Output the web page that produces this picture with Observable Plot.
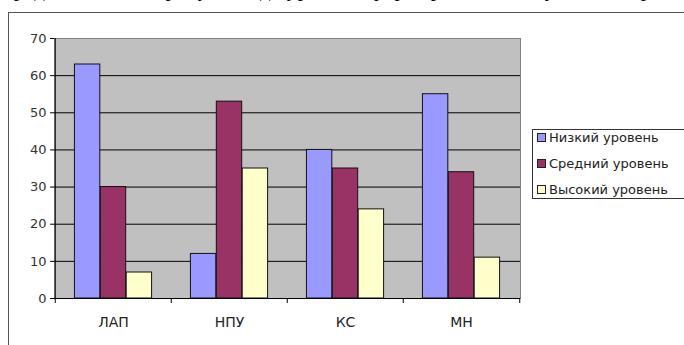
<!DOCTYPE html>
<html>
<head>
<meta charset="utf-8">
<script src="https://cdn.jsdelivr.net/npm/d3@7"></script>
<script src="https://cdn.jsdelivr.net/npm/@observablehq/plot@0.6"></script>
<style>
  html, body { margin: 0; padding: 0; background: #fff; }
  #wrap { position: relative; width: 684px; height: 345px; overflow: hidden; }
  #toptext { position: absolute; left: 2px; top: -23px; font-family: "Liberation Serif", serif; font-size: 21px; color: #000; white-space: nowrap; letter-spacing: 0.5px; }
  #border { position: absolute; left: 8px; top: 12px; width: 700px; height: 400px; border: 1px solid #555; box-sizing: border-box; }
  #chart { position: absolute; left: 0; top: 0; }
  #legend { position: absolute; left: 532px; top: 129px; width: 170px; height: 70px; border: 1px solid #333; box-sizing: border-box; background: #fff; font-family: "DejaVu Sans", sans-serif; font-size: 13px; color: #222; }
  .item { display: flex; align-items: center; height: 26px; padding-left: 4px; }
  .item:first-child { margin-top: -6px; }
  .sw { width: 7px; height: 7px; border: 1px solid #222; margin-right: 3px; flex: none; }
</style>
</head>
<body>
<div id="wrap">
  <div id="toptext">представлены на рисунке, где уровни сформированности умений отражены графически</div>
  <div id="border"></div>
  <div id="chart"></div>
  <div id="legend"></div>
</div>
<script>
const categories = ["ЛАП", "НПУ", "КС", "МН"];
const seriesNames = ["Низкий уровень", "Средний уровень", "Высокий уровень"];
const lowValues = [63, 12, 40, 55];
const midValues = [30, 53, 35, 34];
const highValues = [7, 35, 24, 11];
const yTicks = [0, 10, 20, 30, 40, 50, 60, 70];
const seriesColors = ["#9999ff", "#993366", "#ffffcc"];

const seriesValues = [lowValues, midValues, highValues];

const W = 530, H = 345;
const mL = 54, mR = 10, mT = 38, mB = 47;
const bw = (W - mL - mR) / categories.length; // band width
const gap = 1.5; // Excel gap width 150%
const slots = seriesNames.length + gap;

const marks = [
  Plot.frame({fill: "#c0c0c0", stroke: "#808080"}),
  Plot.gridY(yTicks.filter(t => t !== 0 && t !== 70), {stroke: "#000", strokeOpacity: 1, strokeWidth: 1})
];

seriesNames.forEach((name, k) => {
  const data = categories.map((c, i) => ({cat: c, value: seriesValues[k][i]}));
  marks.push(Plot.barY(data, {
    x: "cat", y: "value",
    fill: seriesColors[k], stroke: "#111", strokeWidth: 1,
    insetLeft: bw * (gap / 2 + k) / slots,
    insetRight: bw * (slots - gap / 2 - k - 1) / slots
  }));
});

marks.push(
  Plot.ruleY([0], {stroke: "#000"}),
  Plot.ruleX([categories[0]], {x: d => d, dx: -bw / 2, stroke: "#000"}),
  Plot.ruleX(categories, {x: d => d, dx: -bw / 2, y1: 0, y2: 0, insetBottom: -5, stroke: "#000"}),
  Plot.ruleX([categories[categories.length - 1]], {x: d => d, dx: bw / 2, y1: 0, y2: 0, insetBottom: -5, stroke: "#000"}),
  Plot.axisY(yTicks, {tickSize: 4, tickPadding: 4, fontSize: 13, fill: "#333", stroke: "#000"}),
  Plot.axisX({tickSize: 0, tickPadding: 19, fontSize: 14, fill: "#222"})
);

const chart = Plot.plot({
  width: W, height: H,
  marginLeft: mL, marginRight: mR, marginTop: mT, marginBottom: mB,
  style: {background: "transparent", fontFamily: "DejaVu Sans, sans-serif", overflow: "visible"},
  x: {type: "band", domain: categories, padding: 0, label: null},
  y: {domain: [0, 70], label: null},
  marks
});
document.getElementById("chart").appendChild(chart);

const legend = document.getElementById("legend");
seriesNames.forEach((name, k) => {
  const item = document.createElement("div");
  item.className = "item";
  const sw = document.createElement("span");
  sw.className = "sw";
  sw.style.background = seriesColors[k];
  const t = document.createElement("span");
  t.textContent = name;
  item.appendChild(sw);
  item.appendChild(t);
  legend.appendChild(item);
});
</script>
</body>
</html>
